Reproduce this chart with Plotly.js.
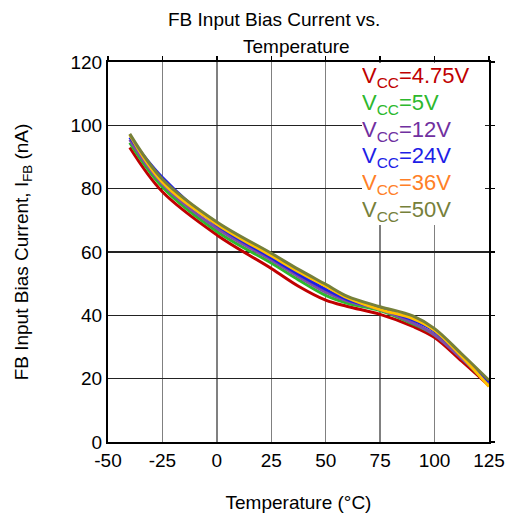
<!DOCTYPE html>
<html>
<head>
<script src="https://cdn.plot.ly/plotly-3.0.1.min.js"></script>
<style>body{margin:0;padding:0;background:#fff;}</style>
</head>
<body>
<div id="chart" style="width:508px;height:517px;"></div>
<script>
const temps = [-40, -25, 0, 25, 37.5, 50, 60, 75, 90, 100, 112.5, 125];
const vcc475 = [93, 79, 65.4, 54.8, 49.2, 44.8, 42.8, 40.3, 36.5, 33, 25.5, 17.8];
const vcc5   = [94.5, 80.5, 66.5, 56.5, 51.2, 46.3, 43.8, 41.5, 37.3, 33.8, 26.5, 18];
const vcc12  = [95.5, 81.5, 67.5, 57.5, 52.2, 47.3, 44.5, 41.8, 37.6, 33.8, 26.3, 18.5];
const vcc24  = [96.2, 83.5, 68.5, 58.2, 53, 48.2, 45, 42, 38.5, 35, 27.3, 19];
const vcc36  = [97, 82, 68.8, 58.8, 53.8, 49.2, 45.5, 41.8, 39, 35.3, 27, 17.5];
const vcc50  = [97.3, 83, 69.5, 59.6, 54.5, 49.8, 46, 42.7, 39.8, 35.8, 27.8, 19.5];
const seriesNames = ["V<sub>CC</sub>=4.75V","V<sub>CC</sub>=5V","V<sub>CC</sub>=12V","V<sub>CC</sub>=24V","V<sub>CC</sub>=36V","V<sub>CC</sub>=50V"];
const xTicks = [-50, -25, 0, 25, 50, 75, 100, 125];
const yTicks = [0, 20, 40, 60, 80, 100, 120];
const titleLines = ["FB Input Bias Current vs.", "Temperature"];

const seriesData = [vcc475, vcc5, vcc12, vcc24, vcc36, vcc50];
const lineColors = ["#C00000", "#2DB82D", "#7F4FA8", "#1E1EE6", "#FFC000", "#76803A"];
const labelColors = ["#C00000", "#2DB82D", "#7030A0", "#1E1EE6", "#FF7F27", "#76803A"];

const traces = seriesData.map((ys, i) => ({
  x: temps, y: ys, type: 'scatter', mode: 'lines',
  line: {color: lineColors[i], width: 3, shape: 'spline', smoothing: 1},
  name: seriesNames[i], showlegend: false, hoverinfo: 'skip'
}));
traces.push({x: [0], y: [0], xaxis: 'x2', yaxis: 'y2', type: 'scatter', mode: 'markers',
  marker: {opacity: 0, size: 1}, showlegend: false, hoverinfo: 'skip'});

const fontFamily = 'Liberation Sans, Arial, sans-serif';
const font = {family: fontFamily, size: 19, color: '#000'};

const annotations = [];
const legendY = [0.9605, 0.8895, 0.818, 0.75, 0.679, 0.608];
seriesNames.forEach((n, i) => annotations.push({
  xref: 'paper', yref: 'paper', x: 0.667, y: legendY[i],
  xanchor: 'left', yanchor: 'middle', text: n, showarrow: false, align: 'left',
  width: 123, height: 28, bgcolor: 'white', borderpad: 0, borderwidth: 0,
  font: {family: fontFamily, size: 22, color: labelColors[i]}
}));
annotations.push({
  xref: 'paper', yref: 'paper', x: 0.436, y: 1.112, xanchor: 'center', yanchor: 'middle',
  text: titleLines[0], showarrow: false, font: font
});
annotations.push({
  xref: 'paper', yref: 'paper', x: 0.496, y: 1.042, xanchor: 'center', yanchor: 'middle',
  text: titleLines[1], showarrow: false, font: font
});

const layout = {
  width: 508, height: 517,
  margin: {l: 108, r: 19, t: 62, b: 75},
  paper_bgcolor: '#fff', plot_bgcolor: '#fff',
  font: font,
  xaxis: {
    range: [-50, 125], tickvals: xTicks, ticktext: xTicks.map(String),
    showgrid: true, gridcolor: '#808080', gridwidth: 1.5,
    zeroline: false, showline: true, linecolor: '#000', linewidth: 2, mirror: true,
    ticks: '', tickfont: font,
    title: {text: 'Temperature (°C)', font: font, standoff: 26}
  },
  xaxis2: {
    overlaying: 'x', side: 'top', range: [-50, 125], tickvals: xTicks, ticktext: xTicks.map(() => ''),
    showgrid: false, zeroline: false, showline: false,
    ticks: 'outside', ticklen: 5, tickcolor: '#000', tickwidth: 1.5
  },
  yaxis: {
    range: [0, 120], tickvals: yTicks, ticktext: yTicks.map(String),
    showgrid: true, gridcolor: '#222', gridwidth: 1.5,
    zeroline: false, showline: true, linecolor: '#000', linewidth: 2, mirror: true,
    ticks: '', tickfont: font,
    title: {text: 'FB Input Bias Current, I<sub>FB</sub> (nA)', font: font, standoff: 37}
  },
  yaxis2: {
    overlaying: 'y', side: 'right', range: [0, 120], tickvals: yTicks, ticktext: yTicks.map(() => ''),
    showgrid: false, zeroline: false, showline: false,
    ticks: 'outside', ticklen: 5, tickcolor: '#000', tickwidth: 1.5
  },
  annotations: annotations
};

Plotly.newPlot('chart', traces, layout, {staticPlot: true, displayModeBar: false});
</script>
</body>
</html>
